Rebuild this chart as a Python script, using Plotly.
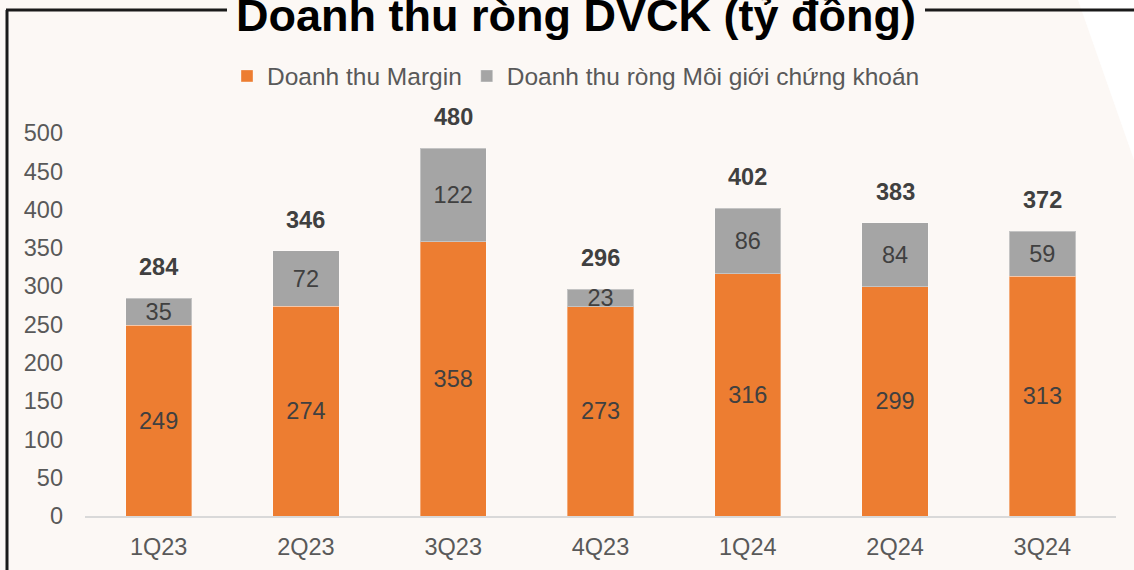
import plotly.graph_objects as go

quarters = ["1Q23", "2Q23", "3Q23", "4Q23", "1Q24", "2Q24", "3Q24"]
margin_rev = [249, 274, 358, 273, 316, 299, 313]
brokerage_rev = [35, 72, 122, 23, 86, 84, 59]
totals = [284, 346, 480, 296, 402, 383, 372]

FONT = "Liberation Sans, Arial, sans-serif"
FS = 23.5
W, H = 1134, 570
L, R, T, B = 85, 18, 133, 54
pw, ph = W - L - R, H - T - B

def px(x):
    return (x - L) / pw

def py(y):
    return (H - B - y) / ph

fig = go.Figure()
fig.add_trace(go.Bar(
    x=quarters, y=margin_rev, name="Doanh thu Margin",
    marker=dict(color="#ED7D31", line=dict(color="rgba(255,255,255,0.35)", width=1)),
    text=margin_rev, textposition="inside", insidetextanchor="middle", textangle=0,
    textfont=dict(size=FS, color="#404040", family=FONT),
))
fig.add_trace(go.Bar(
    x=quarters, y=brokerage_rev, name="Doanh thu ròng Môi giới chứng khoán",
    marker=dict(color="#A5A5A5", line=dict(color="rgba(255,255,255,0.35)", width=1)),
    text=brokerage_rev, textposition="inside", insidetextanchor="middle", textangle=0,
    textfont=dict(size=FS, color="#404040", family=FONT),
))

for q, t in zip(quarters, totals):
    fig.add_annotation(x=q, y=t, text=f"<b>{t}</b>", showarrow=False,
                       yshift=31, font=dict(size=FS, color="#404040", family=FONT))

fig.add_annotation(xref="paper", yref="paper", x=px(576), y=py(15),
                   text="<b>Doanh thu ròng DVCK (tỷ đồng)</b>", showarrow=False,
                   xanchor="center", yanchor="middle",
                   font=dict(size=45, color="#000000", family=FONT))

shapes = [
    dict(type="path", xref="paper", yref="paper",
         path=f"M {px(1078)} {py(0)} L {px(1134)} {py(0)} L {px(1134)} {py(160)} Z",
         fillcolor="#ffffff", line=dict(width=0), layer="below"),
    dict(type="line", xref="paper", yref="paper", x0=px(7), x1=px(7), y0=py(10), y1=py(575),
         line=dict(color="#1a1a1a", width=3)),
    dict(type="line", xref="paper", yref="paper", x0=px(6), x1=px(227), y0=py(10), y1=py(10),
         line=dict(color="#1a1a1a", width=3)),
    dict(type="line", xref="paper", yref="paper", x0=px(925), x1=px(1140), y0=py(10), y1=py(10),
         line=dict(color="#1a1a1a", width=3)),
]

fig.update_layout(
    width=W, height=H, barmode="stack", bargap=0.55,
    margin=dict(l=L, r=R, t=T, b=B, autoexpand=False),
    paper_bgcolor="#FCF8F5", plot_bgcolor="rgba(0,0,0,0)",
    font=dict(family=FONT, size=FS, color="#595959"),
    uniformtext=dict(minsize=FS, mode="show"),
    showlegend=True,
    legend=dict(orientation="h", traceorder="normal", x=px(576), xanchor="center",
                y=py(76), yanchor="middle",
                font=dict(size=24.5, color="#595959"), bgcolor="rgba(0,0,0,0)",
                itemwidth=30, tracegroupgap=0),
    shapes=shapes,
    xaxis=dict(showgrid=False, showline=True, linecolor="#D9D9D9", linewidth=2,
               ticks="", tickfont=dict(size=FS, color="#595959"), ticklabelstandoff=9),
    yaxis=dict(range=[0, 500], dtick=50, showgrid=False, zeroline=False, showline=False,
               ticks="", tickfont=dict(size=FS, color="#595959"), ticklabelstandoff=21),
)

fig.write_html("out.html", config={"displayModeBar": False},
               post_script="document.body.style.margin='0';document.body.style.overflow='hidden';")
